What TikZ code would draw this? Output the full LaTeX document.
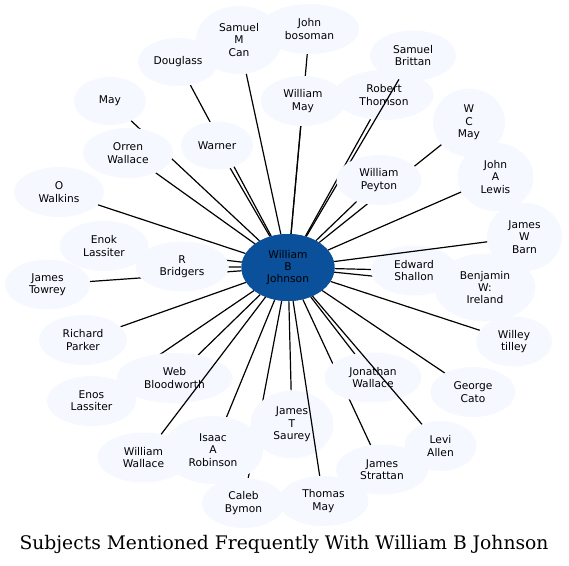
\documentclass[tikz,border=0pt]{standalone}
\usepackage{fontspec}
\newfontfamily\dvs{DejaVu Sans}
\newfontfamily\dvserif{DejaVu Serif}
\usetikzlibrary{shapes.geometric}
\pgfdeclarelayer{background}
\pgfsetlayers{background,main}
\definecolor{lt}{RGB}{245,248,255}
\definecolor{hub}{RGB}{10,80,155}
\begin{document}
\begin{tikzpicture}[x=1pt,y=-1pt,
  nd/.style={ellipse, fill=lt, inner sep=0pt, align=center,
    font=\dvs\fontsize{10.67}{12.3}\selectfont, text=black},
  hubnode/.style={nd, fill=hub},
  two/.style={minimum height=50pt, minimum width=#1},
  three/.style={minimum height=68pt, minimum width=#1},
  one/.style={minimum height=48pt, minimum width=#1},
  link/.style={draw=black, line width=1.2pt}]
\useasboundingbox (0,0) rectangle (569,565);
% nodes (main layer)
\node[nd, three=86pt] (samc) at (239,40) {Samuel\\M\\Can};
\node[nd, two=99pt] (jbos) at (309.5,29) {John\\bosoman};
\node[nd, one=80pt] (doug) at (178,62) {Douglass};
\node[nd, two=86pt] (sbri) at (413,55.5) {Samuel\\Brittan};
\node[nd, one=72pt] (may) at (110,101) {May};
\node[nd, two=85pt] (wmay) at (303,101) {William\\May};
\node[nd, two=99pt] (rtho) at (384,95) {Robert\\Thomson};
\node[nd, three=72pt] (wcm) at (469,122.5) {W\\C\\May};
\node[nd, one=72pt] (warn) at (217,145.5) {Warner};
\node[nd, two=90pt] (orren) at (128,153) {Orren\\Wallace};
\node[nd, three=76pt] (jal) at (495.5,177) {John\\A\\Lewis};
\node[nd, two=90pt] (owal) at (59,192) {O\\Walkins};
\node[nd, two=89pt] (enok) at (104,246) {Enok\\Lassiter};
\node[nd, three=75pt] (jwb) at (524.5,237) {James\\W\\Barn};
\node[nd, two=93pt] (rbri) at (182,266.5) {R\\Bridgers};
\node[nd, three=101pt] (bwi) at (485,287.5) {Benjamin\\W:\\Ireland};
\node[nd, two=86pt] (esha) at (414,270.5) {Edward\\Shallon};
\node[nd, two=85pt] (jtow) at (47.5,284.5) {James\\Towrey};
\node[nd, two=88pt] (rpar) at (83,340) {Richard\\Parker};
\node[nd, two=76pt] (wtil) at (514,341.5) {Willey\\tilley};
\node[nd, two=89pt] (enos) at (91.5,401) {Enos\\Lassiter};
\node[nd, two=116pt] (webb) at (174.5,378) {Web\\Bloodworth};
\node[nd, two=97pt] (jwal) at (373,377.5) {Jonathan\\Wallace};
\node[nd, two=85pt] (gcat) at (473,392) {George\\Cato};
\node[nd, three=83pt] (jts) at (292,424.5) {James\\T\\Saurey};
\node[nd, three=100pt] (iar) at (213,450) {Isaac\\A\\Robinson};
\node[nd, two=72pt] (levi) at (440.5,446) {Levi\\Allen};
\node[nd, two=92pt] (wwal) at (143.5,457.5) {William\\Wallace};
\node[nd, two=92pt] (jstr) at (382,469.5) {James\\Strattan};
\node[nd, two=83pt] (caleb) at (243.5,503) {Caleb\\Bymon};
\node[nd, two=90pt] (tmay) at (323.5,501) {Thomas\\May};
\coordinate (hubpos) at (288,267.5);
\node[hubnode, minimum width=93pt, minimum height=67pt] (hubtmp) at (hubpos) {};
% edges drawn over some nodes
\draw[link] (hubtmp) -- (sbri);
\draw[link] (hubtmp) -- (levi);
\draw[link] (hubtmp) -- (tmay);
\draw[link] (hubtmp) -- (wwal);
\draw[link] (hubtmp) -- (jwb);
\node[nd, two=85pt] (wpey) at (379,180) {William\\Peyton};
\node[hubnode, minimum width=93pt, minimum height=67pt] (hub) at (hubpos) {William\\B\\Johnson};
% edges under nodes
\begin{pgfonlayer}{background}
\draw[link] (hub) -- (samc);
\draw[link] (hub) -- (jbos);
\draw[link] (hub) -- (doug);
\draw[link] (hub) -- (may);
\draw[link] (hub) -- (wmay);
\draw[link] (hub) -- (rtho);
\draw[link] (hub) -- (wcm);
\draw[link] (hub) -- (warn);
\draw[link] (hub) -- (orren);
\draw[link] (hub) -- (wpey);
\draw[link] (hub) -- (jal);
\draw[link] (hub) -- (owal);
\draw[link] (hub) -- (enok);
\draw[link] (hub) -- (rbri);
\draw[link] (hub) -- (esha);
\draw[link] (hub) -- (bwi);
\draw[link] (hub) -- (jtow);
\draw[link] (hub) -- (rpar);
\draw[link] (hub) -- (wtil);
\draw[link] (hub) -- (webb);
\draw[link] (hub) -- (jwal);
\draw[link] (hub) -- (enos);
\draw[link] (hub) -- (gcat);
\draw[link] (hub) -- (jts);
\draw[link] (hub) -- (iar);
\draw[link] (hub) -- (jstr);
\draw[link] (hub) -- (caleb);
\end{pgfonlayer}
\node[anchor=base, inner sep=0pt, font=\dvserif\fontsize{18.7}{20}\selectfont] (title) at (284,549) {Subjects Mentioned Frequently With William B Johnson};
\end{tikzpicture}
\end{document}
